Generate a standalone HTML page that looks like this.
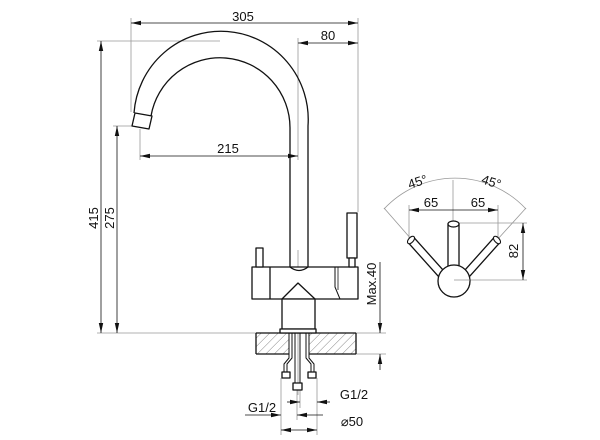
<!DOCTYPE html>
<html><head><style>html,body{margin:0;padding:0;background:#fff}svg{display:block}</style></head>
<body>
<svg width="600" height="440" viewBox="0 0 600 440" xmlns="http://www.w3.org/2000/svg" font-family="Liberation Sans, sans-serif">
<defs>
<marker id="a" viewBox="0 0 10 6" refX="10" refY="3" markerWidth="10" markerHeight="6" orient="auto-start-reverse" markerUnits="userSpaceOnUse"><path d="M0,0.8 L10,3 L0,5.2 Z" fill="#111"/></marker>
<pattern id="h" width="6" height="6" patternUnits="userSpaceOnUse" patternTransform="rotate(45)"><line x1="0" y1="0" x2="0" y2="6" stroke="#888" stroke-width="1"/></pattern>
</defs>
<g stroke="#999" stroke-width="0.8" fill="none">
<line x1="131" y1="18" x2="131" y2="112"/>
<line x1="358" y1="18" x2="358" y2="212"/>
<line x1="298" y1="38" x2="298" y2="160"/>
<line x1="97" y1="41" x2="220" y2="41"/>
<line x1="113" y1="126" x2="133" y2="126"/>
<line x1="140" y1="129" x2="140" y2="160"/>
<line x1="97" y1="333" x2="386" y2="333"/>
<line x1="356" y1="354" x2="386" y2="354"/>
<line x1="298" y1="250" x2="298" y2="395"/>
<line x1="281" y1="378" x2="281" y2="435"/>
<line x1="317" y1="378" x2="317" y2="435"/>
<line x1="297" y1="390" x2="297" y2="420"/>
<line x1="300" y1="390" x2="300" y2="408"/>
<line x1="453" y1="180" x2="453" y2="223"/>
<line x1="409" y1="205" x2="409" y2="240"/>
<line x1="498" y1="205" x2="498" y2="240"/>
<line x1="459" y1="223" x2="527" y2="223"/>
<line x1="454" y1="280" x2="527" y2="280"/>
<line x1="384" y1="208" x2="412" y2="240"/>
<line x1="526" y1="208" x2="497" y2="240"/>
<path d="M384,209 A97,97 0 0 1 526,209"/>
</g>
<g stroke="#111" stroke-width="0.8" fill="none">
<line x1="131" y1="23" x2="358" y2="23" marker-start="url(#a)" marker-end="url(#a)"/>
<line x1="298" y1="43" x2="358" y2="43" marker-start="url(#a)" marker-end="url(#a)"/>
<line x1="140" y1="156" x2="298" y2="156" marker-start="url(#a)" marker-end="url(#a)"/>
<line x1="101" y1="41" x2="101" y2="333" marker-start="url(#a)" marker-end="url(#a)"/>
<line x1="117" y1="126" x2="117" y2="333" marker-start="url(#a)" marker-end="url(#a)"/>
<line x1="380" y1="262" x2="380" y2="333" marker-end="url(#a)"/>
<line x1="380" y1="370" x2="380" y2="354" marker-end="url(#a)"/>
<line x1="287" y1="402" x2="300" y2="402" marker-end="url(#a)"/>
<line x1="330" y1="402" x2="317" y2="402" marker-end="url(#a)"/>
<line x1="245" y1="415" x2="281" y2="415" marker-end="url(#a)"/>
<line x1="323" y1="415" x2="297" y2="415" marker-end="url(#a)"/>
<line x1="281" y1="430" x2="317" y2="430" marker-start="url(#a)" marker-end="url(#a)"/>
<line x1="409" y1="210" x2="498" y2="210" marker-start="url(#a)" marker-end="url(#a)"/>
<line x1="523" y1="223" x2="523" y2="280" marker-start="url(#a)" marker-end="url(#a)"/>
</g>
<rect x="256" y="333" width="33" height="21" fill="url(#h)" stroke="none"/>
<rect x="309" y="333" width="47" height="21" fill="url(#h)" stroke="none"/>
<g stroke="#111" stroke-width="1.3" fill="none" stroke-linejoin="round">
<path d="M256,333 L356,333 M256,354 L289,354 M309,354 L356,354 M256,333 L256,354 M356,333 L356,354"/>
<path d="M134,113 A87,88 0 0 1 308,126 L308,268"/>
<path d="M151,116 A70,70 0 0 1 290,128 L290,268"/>
<path d="M135,113 L152,116 L149,129 L132,126 Z"/>
<rect x="252" y="267" width="106" height="32" fill="#fff"/>
<path d="M290,267 Q299,274 308,267" />
<line x1="270" y1="267" x2="270" y2="299"/>
<path d="M335,267 L335,287 L340,299" stroke-width="1"/>
<line x1="338" y1="267" x2="338" y2="290" stroke-width="0.8"/>
<path d="M282,299 L298,283 L315,299"/>
<rect x="282" y="299" width="33" height="30" fill="#fff"/>
<rect x="280" y="329" width="36" height="4" fill="#fff"/>
<rect x="256" y="248" width="7" height="19" fill="#fff"/>
<rect x="347" y="213" width="10" height="45" fill="#fff"/>
<rect x="349" y="258" width="6" height="9" fill="#fff"/>
<path d="M289,333 L289,358 L284,364 L284,372 M292,333 L292,358 L287,364 L287,372" stroke-width="1"/>
<path d="M309,333 L309,358 L314,364 L314,372 M306,333 L306,358 L311,364 L311,372" stroke-width="1"/>
<path d="M295,333 L295,383 M300,333 L300,383" stroke-width="1"/>
<rect x="282" y="372" width="8" height="6" fill="#fff"/>
<rect x="308" y="372" width="8" height="6" fill="#fff"/>
<rect x="293" y="383" width="9" height="7" fill="#fff"/>
</g>
<!-- top view levers -->
<g fill="none">
<line x1="411" y1="240" x2="445" y2="278" stroke="#111" stroke-width="9"/>
<line x1="411" y1="240" x2="445" y2="278" stroke="#fff" stroke-width="6.4"/>
<line x1="497" y1="240" x2="463" y2="278" stroke="#111" stroke-width="9"/>
<line x1="497" y1="240" x2="463" y2="278" stroke="#fff" stroke-width="6.4"/>
<ellipse cx="411" cy="240" rx="4.5" ry="2.5" transform="rotate(-48 411 240)" fill="#fff" stroke="#111" stroke-width="1.1"/>
<ellipse cx="497" cy="240" rx="4.5" ry="2.5" transform="rotate(48 497 240)" fill="#fff" stroke="#111" stroke-width="1.1"/>
<rect x="448" y="224" width="11" height="44" fill="#fff" stroke="#111" stroke-width="1.3"/>
<ellipse cx="453.5" cy="224" rx="5.5" ry="3" fill="#fff" stroke="#111" stroke-width="1.2"/>
<circle cx="454" cy="281" r="16" fill="#fff" stroke="#111" stroke-width="1.3"/>
<line x1="454" y1="280" x2="470" y2="280" stroke="#999" stroke-width="0.8"/>
</g>
<g fill="#111" font-size="13" text-anchor="middle">
<text x="243" y="21">305</text>
<text x="328" y="40">80</text>
<text x="228" y="153">215</text>
<text transform="translate(98,218) rotate(-90)">415</text>
<text transform="translate(114,218) rotate(-90)">275</text>
<text transform="translate(376,284) rotate(-90)">Max.40</text>
<text x="354" y="399">G1/2</text>
<text x="262" y="412">G1/2</text>
<text x="352" y="426">⌀50</text>
<text x="431" y="207">65</text>
<text x="478" y="207">65</text>
<text transform="translate(419,186) rotate(-18)">45°</text>
<text transform="translate(490,186) rotate(18)">45°</text>
<text transform="translate(518,251) rotate(-90)">82</text>
</g>
</svg>
</body></html>
